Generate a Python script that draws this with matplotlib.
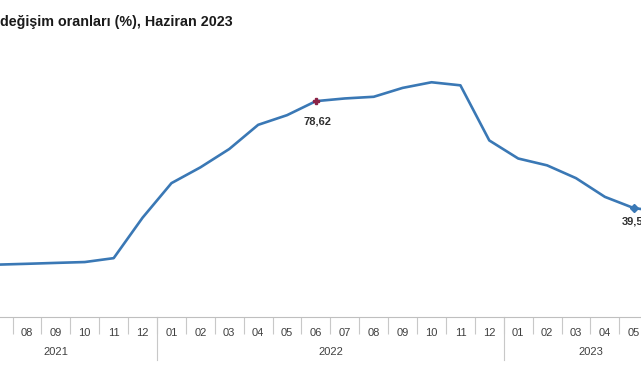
import matplotlib.pyplot as plt
from matplotlib.lines import Line2D

plt.rcParams['font.family'] = ['Liberation Sans', 'DejaVu Sans']

# yearly change (%), 2021-06 .. 2023-06
months = ['06', '07', '08', '09', '10', '11', '12',
          '01', '02', '03', '04', '05', '06', '07', '08', '09', '10', '11', '12',
          '01', '02', '03', '04', '05', '06']
years = ['2021', '2022', '2023']
year_spans = [(0, 6), (7, 18), (19, 24)]
values = [17.53, 18.95, 19.25, 19.58, 19.89, 21.31, 36.08,
          48.69, 54.44, 61.14, 69.97, 73.50, 78.62, 79.60, 80.21, 83.45, 85.51, 84.39, 64.27,
          57.68, 55.18, 50.51, 43.68, 39.59, 38.21]
labeled = {12: '78,62', 23: '39,59'}

fig = plt.figure(figsize=(6.41, 3.8), dpi=100)
ax = fig.add_axes([0, 0.167, 1, 0.721])

x = list(range(len(values)))
ax.plot(x, values, color='#3a78b5', lw=1.9, solid_joinstyle='round')
ax.plot([12], [values[12]], marker='P', color='#8b2346', ms=5, ls='none')
ax.plot([23], [values[23]], marker='D', color='#3a78b5', ms=4.5, ls='none')
for i, txt in labeled.items():
    dy = -15 if i == 12 else -10
    ax.annotate(txt, (i, values[i]), xytext=(1, dy), textcoords='offset points',
                ha='center', va='center', fontsize=8, fontweight='bold', color='#303030')

for s in ['top', 'left', 'right']:
    ax.spines[s].set_visible(False)
ax.spines['bottom'].set_color('#bfbfbf')
ax.set_yticks([])

ax.set_xticks(x)
ax.set_xticklabels(months, fontsize=8, color='#404040')
ax.tick_params(axis='x', which='major', length=0, pad=8)
ax.set_xticks([i + 0.5 for i in range(-1, len(values))], minor=True)
ax.tick_params(axis='x', which='minor', length=12, color='#c8c8c8', width=0.8)
ax.set_xlim(1.066, 23.25)
ax.set_ylim(0, 100)

trans = ax.get_xaxis_transform()
for (a, b), yr in zip(year_spans, years):
    ax.text((a + b) / 2, -0.128, yr, transform=trans,
            ha='center', va='center', fontsize=8, color='#404040')
for sep in [6.5, 18.5]:
    ax.add_line(Line2D([sep, sep], [0, -0.158], transform=trans, color='#c8c8c8',
                       lw=0.8, clip_on=False))

fig.text(0.0, 0.942, 'değişim oranları (%), Haziran 2023', ha='left', va='center',
         fontsize=10.3, fontweight='bold', color='#1a1a1a')

fig.savefig('out.png', dpi=100)
